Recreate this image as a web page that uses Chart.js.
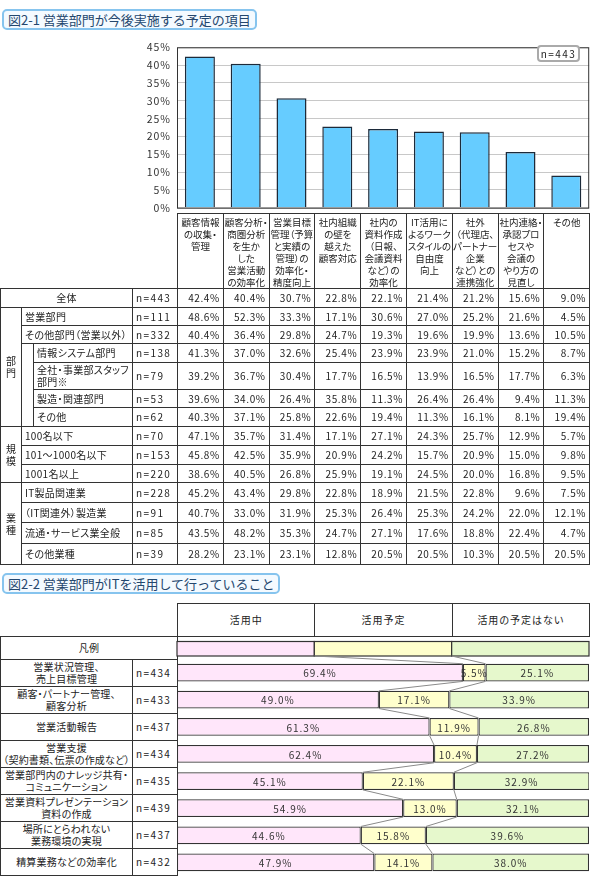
<!DOCTYPE html>
<html lang="ja">
<head>
<meta charset="utf-8">
<script src="https://cdn.jsdelivr.net/npm/chart.js@4.4.1/dist/chart.umd.min.js"></script>
<style>
  body { margin: 0; background: #fff; font-family: "Noto Sans CJK JP", sans-serif; color: #222; }
  #page { position: relative; width: 590px; height: 885px; overflow: hidden; }
  .title { position: absolute; left: 2px; height: 17px; border: 2px solid #86c4ee; border-radius: 5px;
           background: #f4faff; color: #24476e; font-size: 13px; line-height: 17px; padding: 0 4px 0 4px; white-space: nowrap; }
  table { border-collapse: collapse; table-layout: fixed; position: absolute; font-size: 10px; font-feature-settings: "palt"; }
  td { border: 1px solid #333; padding: 0; white-space: nowrap; overflow: visible; line-height: 12px; }
  td.blank { border: none; }
  td.cat { vertical-align: top; text-align: center; font-size: 9.5px; padding-top: 2px; }
  td.lbl { padding-left: 3px; letter-spacing: 0.3px; }
  td.center { text-align: center; padding-left: 0; }
  td.grp { text-align: center; }
  td.n { padding-left: 3px; letter-spacing: 1.4px; font-feature-settings: normal; }
  td.v { text-align: right; padding-right: 3px; letter-spacing: 0.6px; font-feature-settings: normal; }
  td.head { text-align: center; letter-spacing: 1px; }
  td.lbl2 { text-align: center; overflow: hidden; letter-spacing: 0.2px; }
  #nbox { position: absolute; left: 537px; top: 45px; width: 39px; height: 13px; border: 2px solid #aaa; border-radius: 4px;
          background: #fff; font-size: 10px; line-height: 13px; text-align: center; letter-spacing: 1.4px; }
  canvas { position: absolute; }
</style>
</head>
<body>
<div id="page">
  <div class="title" style="top:9px">図2-1 営業部門が今後実施する予定の項目</div>
  <canvas id="chart1" width="460" height="185" style="left:130px;top:35px"></canvas>
  <div id="nbox"></div>
  <table id="tbl1" style="left:0;top:213px;width:589.2px"></table>

  <div class="title" style="top:573px">図2-2 営業部門がITを活用して行っていること</div>
  <table id="head2" style="left:177px;top:603px;width:413px"></table>
  <table id="tbl2" style="left:0;top:636px;width:177px"></table>
  <canvas id="chart2" width="420" height="240" style="left:170px;top:636px"></canvas>
</div>

<script>
// ---- 図2-1 data ----
const categories = [
  ['顧客情報', 'の収集・', '管理'],
  ['顧客分析・', '商圏分析', 'を生か', 'した', '営業活動', 'の効率化'],
  ['営業目標', '管理（予算', 'と実績の', '管理）の', '効率化・', '精度向上'],
  ['社内組織', 'の壁を', '越えた', '顧客対応'],
  ['社内の', '資料作成', '（日報、', '会議資料', 'など）の', '効率化'],
  ['IT活用に', 'よるワーク', 'スタイルの', '自由度', '向上'],
  ['社外', '（代理店、', 'パートナー', '企業', 'など）との', '連携強化'],
  ['社内連絡・', '承認プロ', 'セスや', '会議の', 'やり方の', '見直し'],
  ['その他']
];
const yTicks = [0, 5, 10, 15, 20, 25, 30, 35, 40, 45];

const rowLabels = ['全体', '営業部門', 'その他部門（営業以外）', '情報システム部門', '全社・事業部スタッフ<br>部門※',
  '製造・関連部門', 'その他', '100名以下', '101～1000名以下', '1001名以上',
  'IT製品関連業', '（IT関連外）製造業', '流通・サービス業全般', 'その他業種'];
const rowN = [443, 111, 332, 138, 79, 53, 62, 70, 153, 220, 228, 91, 85, 39];
const rowValues = [
  [42.4, 40.4, 30.7, 22.8, 22.1, 21.4, 21.2, 15.6, 9.0],
  [48.6, 52.3, 33.3, 17.1, 30.6, 27.0, 25.2, 21.6, 4.5],
  [40.4, 36.4, 29.8, 24.7, 19.3, 19.6, 19.9, 13.6, 10.5],
  [41.3, 37.0, 32.6, 25.4, 23.9, 23.9, 21.0, 15.2, 8.7],
  [39.2, 36.7, 30.4, 17.7, 16.5, 13.9, 16.5, 17.7, 6.3],
  [39.6, 34.0, 26.4, 35.8, 11.3, 26.4, 26.4, 9.4, 11.3],
  [40.3, 37.1, 25.8, 22.6, 19.4, 11.3, 16.1, 8.1, 19.4],
  [47.1, 35.7, 31.4, 17.1, 27.1, 24.3, 25.7, 12.9, 5.7],
  [45.8, 42.5, 35.9, 20.9, 24.2, 15.7, 20.9, 15.0, 9.8],
  [38.6, 40.5, 26.8, 25.9, 19.1, 24.5, 20.0, 16.8, 9.5],
  [45.2, 43.4, 29.8, 22.8, 18.9, 21.5, 22.8, 9.6, 7.5],
  [40.7, 33.0, 31.9, 25.3, 26.4, 25.3, 24.2, 22.0, 12.1],
  [43.5, 48.2, 35.3, 24.7, 27.1, 17.6, 18.8, 22.4, 4.7],
  [28.2, 23.1, 23.1, 12.8, 20.5, 20.5, 10.3, 20.5, 20.5]
];
const groups = [
  { name: '部門', from: 1, to: 6, indentFrom: 3 },
  { name: '規模', from: 7, to: 9 },
  { name: '業種', from: 10, to: 13 }
];

// ---- 図2-2 data ----
const seriesNames = ['活用中', '活用予定', '活用の予定はない'];
const itLabels = ['営業状況管理、<br>売上目標管理', '顧客・パートナー管理、<br>顧客分析', '営業活動報告',
  '営業支援<br>（契約書類、伝票の作成など）', '営業部門内のナレッジ共有・<br>コミュニケーション',
  '営業資料プレゼンテーション<br>資料の作成', '場所にとらわれない<br>業務環境の実現', '精算業務などの効率化'];
const itN = [434, 433, 437, 434, 435, 439, 437, 432];
const inUse = [69.4, 49.0, 61.3, 62.4, 45.1, 54.9, 44.6, 47.9];
const planned = [5.5, 17.1, 11.9, 10.4, 22.1, 13.0, 15.8, 14.1];
const noPlan = [25.1, 33.9, 26.8, 27.2, 32.9, 32.1, 39.6, 38.0];
const legendShare = [100 / 3, 100 / 3, 100 / 3];

const font = '"Noto Sans CJK JP", sans-serif';
const segColors = ['#ffe6fa', '#ffffcc', '#e6f8cc'];

// ---- table 1 ----
const rowHeights = [19, 18, 18, 19, 27, 18, 19, 19, 19, 18, 20, 20, 21, 21];
let html = '<colgroup><col style="width:21px"><col style="width:12px"><col style="width:99px"><col style="width:45px">' +
  categories.map(() => '<col style="width:45.8px">').join('') + '</colgroup>';
html += '<tr style="height:73px"><td colspan="4" class="blank"></td>' +
  categories.map(c => '<td class="cat">' + c.join('<br>') + '</td>').join('') + '</tr>';
rowLabels.forEach((label, r) => {
  let cells = '';
  if (r === 0) {
    cells += '<td colspan="3" class="lbl center">' + label + '</td>';
  } else {
    const g = groups.find(g => r >= g.from && r <= g.to);
    if (r === g.from) cells += `<td rowspan="${g.to - g.from + 1}" class="grp">${g.name.split('').join('<br>')}</td>`;
    if (g.indentFrom !== undefined && r >= g.indentFrom) {
      if (r === g.indentFrom) cells += `<td rowspan="${g.to - g.indentFrom + 1}"></td>`;
      cells += `<td class="lbl">${label}</td>`;
    } else {
      cells += `<td colspan="2" class="lbl">${label}</td>`;
    }
  }
  cells += `<td class="n">n=${rowN[r]}</td>`;
  cells += rowValues[r].map(v => `<td class="v">${v.toFixed(1)}%</td>`).join('');
  html += `<tr style="height:${rowHeights[r]}px">${cells}</tr>`;
});
document.getElementById('tbl1').innerHTML = html;
document.getElementById('nbox').textContent = 'n=' + rowN[0];

// ---- chart 1 ----
const frame = {
  id: 'frame',
  beforeDraw(chart) { chart.ctx.letterSpacing = '1px'; },
  beforeDatasetsDraw(chart) {
    const { ctx, chartArea: a } = chart;
    ctx.save();
    ctx.strokeStyle = '#333';
    ctx.lineWidth = 1;
    ctx.strokeRect(a.left + 0.5, a.top + 0.5, a.right - a.left - 1, a.bottom - a.top);
    ctx.restore();
  }
};

new Chart(document.getElementById('chart1'), {
  type: 'bar',
  data: {
    labels: categories.map(c => c.join('')),
    datasets: [{
      data: rowValues[0],
      backgroundColor: '#66ccff',
      borderColor: '#1c2a3a',
      borderWidth: 1.5,
      barPercentage: 0.655,
      categoryPercentage: 1
    }]
  },
  options: {
    responsive: false,
    animation: false,
    layout: { padding: { top: 7.8, right: 0.8, bottom: 7, left: 0 } },
    plugins: { legend: { display: false }, tooltip: { enabled: false } },
    scales: {
      x: { display: false },
      y: {
        min: 0, max: 45,
        afterFit: s => { s.width = 47; },
        afterBuildTicks: s => { s.ticks = yTicks.map(v => ({ value: v })); },
        ticks: { padding: 6, color: '#333', font: { family: font, size: 10.5 }, callback: v => v + '%' },
        grid: { color: '#c8c8c8', drawTicks: false },
        border: { display: false }
      }
    }
  },
  plugins: [frame]
});

// ---- table 2 (header + left labels) ----
document.getElementById('head2').innerHTML = '<tr style="height:33px">' +
  seriesNames.map(s => `<td class="head">${s}</td>`).join('') + '</tr>';

let html2 = '<colgroup><col style="width:132px"><col style="width:45px"></colgroup>';
html2 += '<tr style="height:23px"><td colspan="2" class="lbl2">凡例</td></tr>';
itLabels.forEach((label, i) => {
  html2 += `<tr style="height:27px"><td class="lbl2">${label}</td><td class="n">n=${itN[i]}</td></tr>`;
});
document.getElementById('tbl2').innerHTML = html2;

// ---- chart 2 ----
const stackDeco = {
  id: 'stackDeco',
  afterDatasetsDraw(chart) {
    const { ctx, chartArea: area } = chart;
    const x = chart.scales.x;
    const metas = chart.data.datasets.map((d, i) => chart.getDatasetMeta(i));
    const bars = metas.map(m => m.data.map(el => el.getProps(['x', 'base', 'y', 'height'], true)));
    ctx.save();

    // legend bar above the first row
    const lTop = area.top - 17.5, lBot = area.top - 3;
    let cum = 0;
    legendShare.forEach((v, k) => {
      const x0 = x.getPixelForValue(cum), x1 = x.getPixelForValue(cum + v);
      ctx.fillStyle = segColors[k];
      ctx.fillRect(x0, lTop, x1 - x0, lBot - lTop);
      ctx.strokeStyle = '#333';
      ctx.lineWidth = 1.2;
      ctx.strokeRect(x0, lTop, x1 - x0, lBot - lTop);
      cum += v;
    });

    // connector lines between boundaries
    ctx.strokeStyle = '#8a8a8a';
    ctx.lineWidth = 1;
    const n = inUse.length;
    for (let k = 0; k < 2; k++) {
      let prevX = x.getPixelForValue(legendShare.slice(0, k + 1).reduce((a, b) => a + b, 0));
      let prevY = lBot;
      for (let i = 0; i < n; i++) {
        const b = bars[k][i];
        const top = b.y - b.height / 2, bot = b.y + b.height / 2;
        ctx.beginPath();
        ctx.moveTo(prevX, prevY);
        ctx.lineTo(b.x, top);
        ctx.stroke();
        prevX = b.x;
        prevY = bot;
      }
    }

    // value labels
    ctx.fillStyle = '#333';
    ctx.font = '10px ' + font;
    ctx.letterSpacing = '1px';
    ctx.textAlign = 'center';
    ctx.textBaseline = 'middle';
    chart.data.datasets.forEach((ds, k) => {
      bars[k].forEach((b, i) => {
        ctx.fillText(ds.data[i].toFixed(1) + '%', (b.x + b.base) / 2, b.y + 1);
      });
    });
    ctx.restore();
  }
};

new Chart(document.getElementById('chart2'), {
  type: 'bar',
  data: {
    labels: itLabels.map(l => l.replace('<br>', '')),
    datasets: [inUse, planned, noPlan].map((d, k) => ({
      label: seriesNames[k],
      data: d,
      backgroundColor: segColors[k],
      borderColor: '#333',
      borderWidth: 1.2,
      borderSkipped: false,
      barPercentage: 0.65,
      categoryPercentage: 1
    }))
  },
  options: {
    indexAxis: 'y',
    responsive: false,
    animation: false,
    layout: { padding: { top: 23, right: 1, bottom: 0, left: 7 } },
    plugins: { legend: { display: false }, tooltip: { enabled: false } },
    scales: {
      x: { stacked: true, min: 0, max: 100, display: false },
      y: { stacked: true, display: false }
    }
  },
  plugins: [stackDeco]
});
</script>
</body>
</html>
